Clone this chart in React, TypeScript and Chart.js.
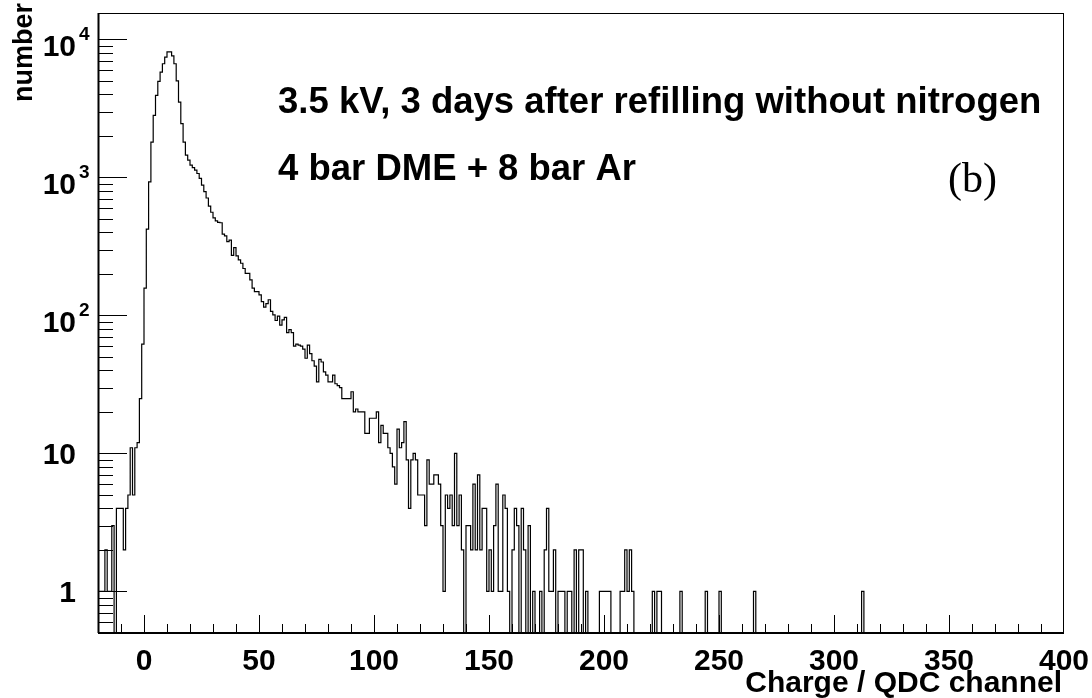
import React, { useEffect, useRef } from 'react';
import { Chart, registerables } from 'chart.js';

Chart.register(...registerables);

// ---- axis ranges / binning ----
const X_MIN = -20;
const X_MAX = 400;
const BIN_WIDTH = 1;
const Y_MIN = 0.5;
const Y_MAX = 15560;
const EMPTY_BIN_DRAW = 0.1; // empty bins are drawn down to (below) the frame bottom

// ---- histogram contents (counts per 1-channel bin) ----
// bins -20 ... -1
const COUNTS_BELOW_ZERO = [1, 1, 1, 2, 1, 1, 3, 0, 4, 4, 4, 2, 4, 5, 11, 5, 11, 12, 25, 62];
// bins 0 ... 33
const COUNTS_PEAK = [
  158, 423, 930, 1807, 2820, 3935, 4965, 5800, 6670, 7440,
  8130, 8130, 7600, 6670, 5010, 3520, 2455, 1807, 1450, 1334,
  1228, 1180, 1130, 1069, 984, 880, 790, 710, 620, 560,
  510, 485, 473, 470,
];
// bins 34 ... 83
const COUNTS_SLOPE = [
  389, 377, 343, 352, 273, 310, 270, 253, 239, 219,
  202, 202, 181, 158, 149, 149, 141, 126, 115, 122,
  130, 107, 101, 92, 99, 85, 93, 97, 75, 79,
  75, 60, 62, 61, 60, 57, 49, 61, 53, 47,
  43, 33, 48, 46, 39, 37, 33, 33, 37, 32,
];
// bins 84 ... 139
const COUNTS_TAIL = [
  31, 30, 25, 25, 25, 25, 28, 20, 21, 20,
  20, 20, 14, 14, 18, 18, 18, 20, 12, 16,
  14, 14, 11, 10, 8, 6, 15, 11, 12, 17,
  9, 4, 9, 10, 9, 5, 5, 5, 3, 9,
  6, 6, 7, 7, 6, 3, 1, 5, 4, 5,
  3, 10, 3, 5, 2, 0,
];
// bins 140 ... 213
const COUNTS_NOISE = [
  3, 3, 2, 6, 2, 7, 2, 4, 4, 1,
  2, 1, 3, 6, 1, 1, 5, 4, 1, 0,
  2, 4, 3, 0, 4, 2, 0, 3, 0, 1,
  0, 0, 1, 0, 2, 4, 1, 1, 2, 0,
  1, 1, 1, 0, 1, 1, 0, 2, 0, 2,
  2, 0, 1, 0, 0, 0, 0, 0, 1, 1,
  1, 1, 1, 0, 0, 0, 0, 1, 1, 2,
  1, 2, 1, 0,
];
// bins 214 ... 399: only these bins are filled, all other bins are empty
const FAR_FIRST_BIN = 214;
const FAR_HITS: [number, number][] = [
  [221, 1], [223, 1], [224, 1], [233, 1], [244, 1], [250, 1], [265, 1], [312, 1],
];

// ---- axis ticks / labels ----
const X_MAJOR_TICKS = [0, 50, 100, 150, 200, 250, 300, 350, 400];
const X_TICK_LABELS = ['0', '50', '100', '150', '200', '250', '300', '350', '400'];
const X_MINOR_STEP = 10;
const Y_MAJOR_TICKS = [1, 10, 100, 1000, 10000];
const Y_TICK_BASES = ['1', '10', '10', '10', '10'];
const Y_TICK_EXPONENTS = ['', '', '2', '3', '4'];
const Y_MINOR_MULTIPLIERS = [2, 3, 4, 5, 6, 7, 8, 9];

const TITLE_LINE_1 = '3.5 kV, 3 days after refilling without nitrogen';
const TITLE_LINE_2 = '4 bar DME + 8 bar Ar';
const PANEL_TAG = '(b)';
const X_TITLE = 'Charge / QDC channel';
const Y_TITLE = 'number';

const SANS = '"Liberation Sans", Arial, Helvetica, sans-serif';
const SERIF = '"Liberation Serif", "DejaVu Serif", serif';

function buildCounts(): number[] {
  const far: number[] = [];
  const hits = new Map(FAR_HITS);
  const nFar = (X_MAX - X_MIN) / BIN_WIDTH - (FAR_FIRST_BIN - X_MIN);
  for (let i = 0; i < nFar; i++) far.push(hits.get(FAR_FIRST_BIN + i) ?? 0);
  return [...COUNTS_BELOW_ZERO, ...COUNTS_PEAK, ...COUNTS_SLOPE, ...COUNTS_TAIL, ...COUNTS_NOISE, ...far];
}

const rootStylePlugin = {
  id: 'rootStyle',
  afterDraw(chart: any) {
    const { ctx, chartArea: a, scales } = chart;
    const xs = scales.x;
    const ys = scales.y;
    ctx.save();
    ctx.strokeStyle = '#000';
    ctx.fillStyle = '#000';

    // frame
    ctx.lineWidth = 1;
    ctx.strokeRect(a.left + 0.5, a.top + 0.5, a.right - a.left - 1, a.bottom - a.top);
    ctx.lineWidth = 2;
    ctx.beginPath();
    ctx.moveTo(a.left, a.bottom);
    ctx.lineTo(a.right, a.bottom);
    ctx.moveTo(a.left + 0.5, a.top);
    ctx.lineTo(a.left + 0.5, a.bottom);
    ctx.stroke();

    // x ticks
    ctx.lineWidth = 1;
    ctx.beginPath();
    for (let v = X_MIN + X_MINOR_STEP; v < X_MAX; v += X_MINOR_STEP) {
      const px = Math.round(xs.getPixelForValue(v)) + 0.5;
      const len = X_MAJOR_TICKS.includes(v) ? 18 : 9;
      ctx.moveTo(px, a.bottom);
      ctx.lineTo(px, a.bottom - len);
    }
    ctx.stroke();

    // y ticks
    ctx.beginPath();
    const decades = [0.1, 1, 10, 100, 1000, 10000];
    for (const d of decades) {
      for (const m of Y_MINOR_MULTIPLIERS) {
        const v = d * m;
        if (v <= Y_MIN || v >= Y_MAX) continue;
        const py = Math.round(ys.getPixelForValue(v)) + 0.5;
        ctx.moveTo(a.left, py);
        ctx.lineTo(a.left + 15, py);
      }
    }
    for (const v of Y_MAJOR_TICKS) {
      const py = Math.round(ys.getPixelForValue(v)) + 0.5;
      ctx.moveTo(a.left, py);
      ctx.lineTo(a.left + 29, py);
    }
    ctx.stroke();

    // x tick labels
    ctx.font = `bold 30px ${SANS}`;
    ctx.textAlign = 'center';
    ctx.textBaseline = 'alphabetic';
    X_MAJOR_TICKS.forEach((v, i) => {
      ctx.fillText(X_TICK_LABELS[i], xs.getPixelForValue(v), 670);
    });

    // y tick labels
    Y_MAJOR_TICKS.forEach((v, i) => {
      const py = ys.getPixelForValue(v);
      const exp = Y_TICK_EXPONENTS[i];
      ctx.font = `bold 30px ${SANS}`;
      ctx.textAlign = 'right';
      ctx.fillText(Y_TICK_BASES[i], 76, py + (exp ? 16.5 : 10.5));
      if (exp) {
        ctx.font = `bold 19px ${SANS}`;
        ctx.textAlign = 'left';
        ctx.fillText(exp, 79, py + 1);
      }
    });

    // axis titles
    ctx.font = `bold 30px ${SANS}`;
    ctx.textAlign = 'right';
    ctx.fillText(X_TITLE, 1062, 692);

    ctx.save();
    ctx.translate(32, 3);
    ctx.rotate(-Math.PI / 2);
    ctx.font = `bold 27px ${SANS}`;
    ctx.textAlign = 'right';
    ctx.fillText(Y_TITLE, 0, 0);
    ctx.restore();

    // annotations
    ctx.font = `bold 36.5px ${SANS}`;
    ctx.textAlign = 'left';
    ctx.fillText(TITLE_LINE_1, 278, 113);
    ctx.fillText(TITLE_LINE_2, 278, 180);
    ctx.font = `42px ${SERIF}`;
    ctx.fillText(PANEL_TAG, 948, 192);

    ctx.restore();
  },
};

export default function App() {
  const ref = useRef<HTMLCanvasElement | null>(null);

  useEffect(() => {
    if (!ref.current) return;
    const counts = buildCounts();
    const points = counts.map((c, i) => ({
      x: X_MIN + i * BIN_WIDTH,
      y: c > 0 ? c : EMPTY_BIN_DRAW,
    }));
    const last = counts[counts.length - 1];
    points.push({ x: X_MAX, y: last > 0 ? last : EMPTY_BIN_DRAW });

    const chart = new Chart(ref.current, {
      type: 'line',
      data: {
        datasets: [
          {
            data: points,
            borderColor: '#000',
            borderWidth: 1.2,
            pointRadius: 0,
            stepped: 'before',
            fill: false,
            clip: 0,
          } as any,
        ],
      },
      options: {
        animation: false,
        responsive: false,
        events: [],
        layout: { padding: { left: 98, top: 13, right: 28, bottom: 65 } },
        plugins: { legend: { display: false }, tooltip: { enabled: false } },
        scales: {
          x: { type: 'linear', min: X_MIN, max: X_MAX, display: false },
          y: { type: 'logarithmic', min: Y_MIN, max: Y_MAX, display: false },
        },
      },
      plugins: [rootStylePlugin],
    });
    return () => chart.destroy();
  }, []);

  return (
    <div style={{ position: 'absolute', left: 0, top: 0, width: 1092, height: 698, background: '#fff' }}>
      <canvas ref={ref} width={1092} height={698} />
    </div>
  );
}
